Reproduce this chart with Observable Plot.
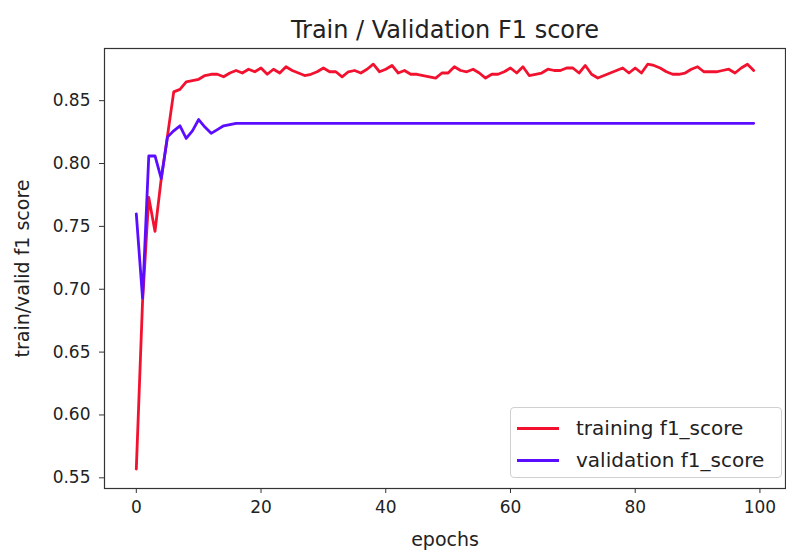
<!DOCTYPE html>
<html>
<head>
<meta charset="utf-8">
<script src="https://cdn.jsdelivr.net/npm/d3@7"></script>
<script src="https://cdn.jsdelivr.net/npm/@observablehq/plot@0.6"></script>
<style>
  body { margin: 0; background: #fff; }
  #wrap { position: relative; width: 786px; height: 552px; font-family: "DejaVu Sans", sans-serif; }
  #legend { position: absolute; left: 510px; top: 407px; width: 272px; height: 71px;
    border: 1px solid #d0d0d0; border-radius: 4px; background: rgba(255,255,255,0.85); box-sizing: border-box; }
  .entry { position: absolute; left: 6px; height: 22px; display: flex; align-items: center; }
  .swatch { width: 42px; height: 3px; margin-right: 17px; }
  .entry span { font-size: 20px; color: #222; }
</style>
</head>
<body>
<div id="wrap"></div>
<script>
const epochs = d3.range(0, 100);
const trainF1 = [
  0.557, 0.690, 0.773, 0.746, 0.788, 0.822, 0.857, 0.859, 0.865, 0.866,
  0.867, 0.870, 0.871, 0.871, 0.869, 0.872, 0.874, 0.872, 0.875, 0.873,
  0.876, 0.871, 0.875, 0.872, 0.877, 0.874, 0.872, 0.870, 0.871, 0.873,
  0.876, 0.873, 0.873, 0.869, 0.873, 0.874, 0.872, 0.875, 0.879, 0.873,
  0.875, 0.878, 0.872, 0.874, 0.871, 0.871, 0.870, 0.869, 0.868, 0.872,
  0.872, 0.877, 0.874, 0.873, 0.875, 0.872, 0.868, 0.871, 0.871, 0.873,
  0.876, 0.872, 0.877, 0.870, 0.871, 0.872, 0.875, 0.874, 0.874, 0.876,
  0.876, 0.872, 0.878, 0.871, 0.868, 0.870, 0.872, 0.874, 0.876, 0.872,
  0.876, 0.872, 0.879, 0.878, 0.876, 0.873, 0.871, 0.871, 0.872, 0.875,
  0.877, 0.873, 0.873, 0.873, 0.874, 0.875, 0.872, 0.876, 0.879, 0.874
];
const validF1Early = [
  0.760, 0.693, 0.806, 0.806, 0.788, 0.821, 0.826, 0.830, 0.820, 0.826,
  0.835, 0.829, 0.824, 0.827, 0.830, 0.831, 0.832
];
const validPlateau = 0.832;
const validF1 = epochs.map(e => e < validF1Early.length ? validF1Early[e] : validPlateau);
const seriesNames = ["training f1_score", "validation f1_score"];
const seriesColors = ["#f2122f", "#5b0dff"];
const yTicks = [0.55, 0.60, 0.65, 0.70, 0.75, 0.80, 0.85];
const xTicks = [0, 20, 40, 60, 80, 100];
const titleText = "Train / Validation F1 score";
const xLabel = "epochs";
const yLabel = "train/valid f1 score";

const data = [];
epochs.forEach((e, i) => {
  data.push({epoch: e, value: trainF1[i], series: seriesNames[0]});
});
epochs.forEach((e, i) => {
  data.push({epoch: e, value: validF1[i], series: seriesNames[1]});
});

const chart = Plot.plot({
  width: 786,
  height: 552,
  marginLeft: 104,
  marginRight: 1,
  marginTop: 48,
  marginBottom: 64,
  style: {fontFamily: "DejaVu Sans, sans-serif", fontSize: "17px", color: "#222", background: "#fff"},
  x: {domain: [-5.1, 104.1]},
  y: {domain: [0.5415, 0.8915]},
  color: {domain: seriesNames, range: seriesColors},
  marks: [
    Plot.frame({stroke: "#333", strokeWidth: 1.2}),
    Plot.axisX({ticks: xTicks, tickSize: 5, tickPadding: 7, label: null, fontSize: 17, stroke: "#333"}),
    Plot.axisY({ticks: yTicks, tickFormat: d3.format(".2f"), tickSize: 5, tickPadding: 9, label: null, fontSize: 17, stroke: "#333"}),
    Plot.line(data, {x: "epoch", y: "value", z: "series", stroke: "series", strokeWidth: 2.8}),
    Plot.text([titleText], {frameAnchor: "top", dy: -18, fontSize: 24, fill: "#222", lineAnchor: "middle"}),
    Plot.text([xLabel], {frameAnchor: "bottom", dy: 51, fontSize: 19, fill: "#222", lineAnchor: "middle"}),
    Plot.text([yLabel], {frameAnchor: "left", dx: -82, rotate: -90, fontSize: 19, fill: "#222", lineAnchor: "middle", textAnchor: "middle"})
  ]
});

const wrap = document.getElementById("wrap");
wrap.appendChild(chart);

const legend = document.createElement("div");
legend.id = "legend";
seriesNames.forEach((name, i) => {
  const entry = document.createElement("div");
  entry.className = "entry";
  entry.style.top = (9 + i * 32) + "px";
  const sw = document.createElement("div");
  sw.className = "swatch";
  sw.style.background = seriesColors[i];
  const label = document.createElement("span");
  label.textContent = name;
  entry.appendChild(sw);
  entry.appendChild(label);
  legend.appendChild(entry);
});
wrap.appendChild(legend);
</script>
</body>
</html>
